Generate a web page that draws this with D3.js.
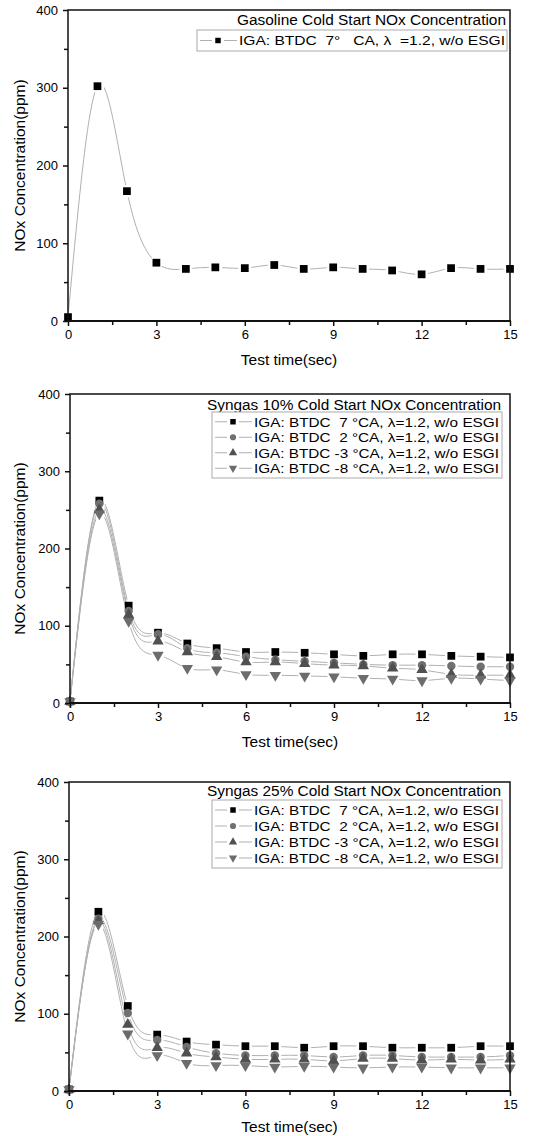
<!DOCTYPE html>
<html>
<head>
<meta charset="utf-8">
<script src="https://cdn.jsdelivr.net/npm/d3@7"></script>
<style>
  body { margin: 0; background: #fff; }
  text { font-family: Arial, "Liberation Sans", sans-serif; fill: #000; }
</style>
</head>
<body>
<div id="chart"></div>
<script>
// Test time (sec)
const time = [0, 1, 2, 3, 4, 5, 6, 7, 8, 9, 10, 11, 12, 13, 14, 15];
const xTicks = [0, 3, 6, 9, 12, 15];
const xMinor = [1.5, 4.5, 7.5, 10.5, 13.5];
const yTicks = [0, 100, 200, 300, 400];
const yMinor = [50, 150, 250, 350];

// Gasoline, NOx (ppm)
const gasoline = [5, 302, 167, 75, 67, 69, 68, 72, 67, 69, 67, 65, 60, 68, 67, 67];

// Syngas 10 %, NOx (ppm)
const syn10Btdc7  = [2, 262, 126, 91, 77, 71, 66, 66, 65, 63, 61, 63, 63, 61, 60, 59];
const syn10Btdc2  = [2, 258, 119, 89, 71, 65, 60, 56, 54, 52, 50, 49, 49, 48, 47, 47];
const syn10BtdcM3 = [2, 250, 114, 80, 66, 60, 53, 53, 51, 49, 48, 45, 43, 37, 36, 36];
const syn10BtdcM8 = [2, 245, 106, 62, 45, 43, 37, 36, 35, 34, 32, 31, 29, 32, 31, 29];

// Syngas 25 %, NOx (ppm)
const syn25Btdc7  = [2, 232, 110, 73, 64, 60, 58, 58, 56, 58, 58, 56, 56, 56, 58, 58];
const syn25Btdc2  = [2, 223, 101, 66, 57, 49, 46, 46, 46, 44, 46, 46, 44, 44, 44, 46];
const syn25BtdcM3 = [2, 220, 86, 56, 49, 44, 41, 41, 41, 39, 42, 42, 40, 41, 40, 41];
const syn25BtdcM8 = [2, 216, 74, 46, 36, 33, 33, 31, 32, 31, 30, 31, 31, 30, 30, 30];

const titles = [
    'Gasoline Cold Start NOx Concentration',
    'Syngas 10% Cold Start NOx Concentration',
    'Syngas 25% Cold Start NOx Concentration'
];
const gasolineLabels = ['IGA: BTDC  7°   CA, λ  =1.2, w/o ESGI'];
const syngasLabels = [
    'IGA: BTDC  7 °CA, λ=1.2, w/o ESGI',
    'IGA: BTDC  2 °CA, λ=1.2, w/o ESGI',
    'IGA: BTDC -3 °CA, λ=1.2, w/o ESGI',
    'IGA: BTDC -8 °CA, λ=1.2, w/o ESGI'
];

const W = 545, H = 1136;
const svg = d3.select('#chart').append('svg')
    .attr('width', W)
    .attr('height', H);
const defs = svg.append('defs');

// marker styles
const styles = [
    {shape: d3.symbolSquare, size: 60, color: '#000', rotate: 0},
    {shape: d3.symbolCircle, size: 56, color: '#707070', rotate: 0},
    {shape: d3.symbolTriangle, size: 56, color: '#505050', rotate: 0},
    {shape: d3.symbolTriangle, size: 56, color: '#6c6c6c', rotate: 180}
];

const panels = [
    {id: 0, left: 68, right: 510, top: 10, bottom: 321, title: titles[0], titleLen: 269,
     series: [gasoline], labels: gasolineLabels, xTitleDy: 44, labelLen: 266,
     legend: {x0: 197, x1: 507, y0: 30, rowH: 17, titleY: 20}},
    {id: 1, left: 70, right: 510, top: 394, bottom: 703, title: titles[1], titleLen: 294,
     series: [syn10Btdc7, syn10Btdc2, syn10BtdcM3, syn10BtdcM8], labels: syngasLabels, xTitleDy: 44, labelLen: 245,
     legend: {x0: 212, x1: 502, y0: 412, rowH: 15.5, titleY: 405}},
    {id: 2, left: 69, right: 510, top: 782, bottom: 1091, title: titles[2], titleLen: 294,
     series: [syn25Btdc7, syn25Btdc2, syn25BtdcM3, syn25BtdcM8], labels: syngasLabels, xTitleDy: 41, labelLen: 245,
     legend: {x0: 212, x1: 502, y0: 800, rowH: 16, titleY: 791}}
];

function marker(parent, cx, cy, st) {
    return parent.append('path')
        .attr('d', d3.symbol().type(st.shape).size(st.size)())
        .attr('transform', `translate(${cx},${cy}) rotate(${st.rotate})`)
        .attr('fill', st.color);
}

function drawPanel(p) {
    const x = d3.scaleLinear().domain([0, 15]).range([p.left, p.right]);
    const y = d3.scaleLinear().domain([0, 400]).range([p.bottom, p.top]);
    const g = svg.append('g');

    const line = d3.line()
        .x(d => x(d[0]))
        .y(d => y(d[1]))
        .curve(d3.curveNatural);

    // spline lines, broken around each symbol
    p.series.forEach((vals, si) => {
        const id = `gap${p.id}_${si}`;
        const mask = defs.append('mask')
            .attr('id', id)
            .attr('maskUnits', 'userSpaceOnUse')
            .attr('x', 0).attr('y', 0).attr('width', W).attr('height', H);
        mask.append('rect').attr('width', W).attr('height', H).attr('fill', '#fff');
        time.forEach((t, i) => {
            mask.append('circle')
                .attr('cx', x(t)).attr('cy', y(vals[i]))
                .attr('r', 6.5).attr('fill', '#000');
        });
        g.append('path')
            .datum(time.map((t, i) => [t, vals[i]]))
            .attr('d', line)
            .attr('fill', 'none')
            .attr('stroke', '#b0b0b0')
            .attr('stroke-width', 1)
            .attr('mask', `url(#${id})`);
    });

    // symbols
    p.series.forEach((vals, si) => {
        time.forEach((t, i) => marker(g, x(t), y(vals[i]), styles[si]));
    });

    // axes
    const ax = svg.append('g');
    ax.append('g')
        .attr('transform', `translate(0,${p.bottom})`)
        .call(d3.axisBottom(x).tickValues(xMinor).tickFormat('').tickSize(4).tickSizeOuter(0));
    ax.append('g')
        .attr('transform', `translate(${p.left},0)`)
        .call(d3.axisLeft(y).tickValues(yMinor).tickFormat('').tickSize(4).tickSizeOuter(0));
    ax.append('g')
        .attr('transform', `translate(0,${p.bottom})`)
        .call(d3.axisBottom(x).tickValues(xTicks).tickSize(5).tickSizeOuter(0).tickPadding(4));
    ax.append('g')
        .attr('transform', `translate(${p.left},0)`)
        .call(d3.axisLeft(y).tickValues(yTicks).tickSize(5).tickSizeOuter(0).tickPadding(5));
    ax.selectAll('.domain').remove();
    ax.selectAll('.tick line').attr('stroke', '#111').attr('stroke-width', 1.5);
    ax.selectAll('.tick text').attr('font-size', 13).attr('font-family', 'Arial, "Liberation Sans", sans-serif').attr('fill', '#000');

    // frame
    svg.append('rect')
        .attr('x', p.left).attr('y', p.top)
        .attr('width', p.right - p.left).attr('height', p.bottom - p.top)
        .attr('fill', 'none').attr('stroke', '#111').attr('stroke-width', 1.5);
    svg.append('line')
        .attr('x1', p.left - 1).attr('x2', p.right + 1)
        .attr('y1', p.bottom).attr('y2', p.bottom)
        .attr('stroke', '#111').attr('stroke-width', 2.2);

    // axis titles
    svg.append('text')
        .attr('x', (p.left + p.right) / 2).attr('y', p.bottom + p.xTitleDy)
        .attr('text-anchor', 'middle').attr('font-size', 15.5)
        .text('Test time(sec)');
    svg.append('text')
        .attr('transform', `translate(25,${(p.top + p.bottom) / 2}) rotate(-90)`)
        .attr('text-anchor', 'middle').attr('font-size', 15.5)
        .text('NOx Concentration(ppm)');

    // legend
    const L = p.legend;
    svg.append('text')
        .attr('x', L.x1 - 1).attr('y', L.titleY)
        .attr('dy', '0.35em')
        .attr('text-anchor', 'end').attr('font-size', 14)
        .attr('textLength', p.titleLen).attr('lengthAdjust', 'spacingAndGlyphs')
        .text(p.title);
    const lg = svg.append('g');
    lg.append('rect')
        .attr('x', L.x0).attr('y', L.y0)
        .attr('width', L.x1 - L.x0).attr('height', L.rowH * p.labels.length + 4)
        .attr('fill', '#fff').attr('stroke', '#aaa').attr('stroke-width', 1);
    p.labels.forEach((lab, i) => {
        const cy = L.y0 + 2 + L.rowH * (i + 0.5);
        const mx = L.x0 + 21;
        lg.append('line').attr('x1', L.x0 + 3).attr('x2', mx - 6)
            .attr('y1', cy).attr('y2', cy).attr('stroke', '#b0b0b0');
        lg.append('line').attr('x1', mx + 6).attr('x2', mx + 19)
            .attr('y1', cy).attr('y2', cy).attr('stroke', '#b0b0b0');
        marker(lg, mx, cy, Object.assign({}, styles[i], {size: 30}));
        lg.append('text')
            .attr('x', L.x0 + 42).attr('y', cy)
            .attr('dy', '0.36em')
            .attr('font-size', 13.5)
            .attr('textLength', p.labelLen).attr('lengthAdjust', 'spacingAndGlyphs')
            .style('white-space', 'pre')
            .text(lab);
    });
}

panels.forEach(drawPanel);
</script>
</body>
</html>
